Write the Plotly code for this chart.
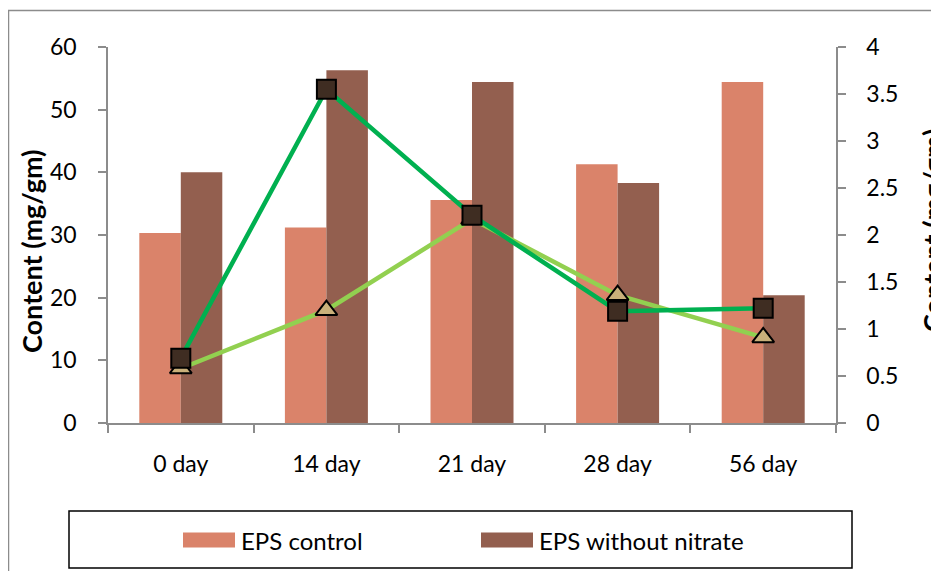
import plotly.graph_objects as go

categories = ["0 day", "14 day", "21 day", "28 day", "56 day"]
eps_control = [30.3, 31.2, 35.6, 41.3, 54.4]
eps_without_nitrate = [40.0, 56.3, 54.4, 38.3, 20.4]
line_triangle = [0.58, 1.20, 2.17, 1.36, 0.91]
line_square = [0.69, 3.55, 2.21, 1.19, 1.22]

left_ticks = [0, 10, 20, 30, 40, 50, 60]
right_ticks = [0, 0.5, 1, 1.5, 2, 2.5, 3, 3.5, 4]
right_tick_text = ["0", "0.5", "1", "1.5", "2", "2.5", "3", "3.5", "4"]

bar_colors = ["#DA836A", "#935F4F"]
bar_names = ["EPS control", "EPS without nitrate"]

FONT = "Lato"
OFF = 8  # page body margin
W, H = 939 - OFF, 571 - OFF
# plot area in page pixels
L, R, T, B = 108, 836, 47, 423

fig = go.Figure()
fig.add_trace(go.Bar(x=categories, y=eps_control, name=bar_names[0],
                     marker=dict(color=bar_colors[0], line=dict(width=0))))
fig.add_trace(go.Bar(x=categories, y=eps_without_nitrate, name=bar_names[1],
                     marker=dict(color=bar_colors[1], line=dict(width=0))))
fig.add_trace(go.Scatter(x=categories, y=line_triangle, yaxis="y2", mode="lines+markers",
                         name="Series 3",
                         line=dict(color="#92D050", width=4.5),
                         marker=dict(symbol="triangle-up", size=19, color="#C9B07A",
                                     line=dict(color="black", width=2))))
fig.add_trace(go.Scatter(x=categories, y=line_square, yaxis="y2", mode="lines+markers",
                         name="Series 4",
                         line=dict(color="#00B050", width=4.5),
                         marker=dict(symbol="square", size=19, color="#3F2D22",
                                     line=dict(color="black", width=2))))


def px_x(x):
    return (x - L) / (R - L)


def px_y(y):
    return (B - y) / (B - T)


axis_common = dict(showline=True, linecolor="#8C8C8C", linewidth=1.5, ticks="outside",
                   ticklen=8, tickcolor="#8C8C8C", tickwidth=1.5, showgrid=False,
                   zeroline=False, tickfont=dict(family=FONT, size=23))

fig.update_layout(
    width=W, height=H,
    margin=dict(l=L - OFF, r=W - (R - OFF), t=T - OFF, b=H - (B - OFF), pad=0),
    paper_bgcolor="white", plot_bgcolor="white",
    barmode="group", bargap=0.43, bargroupgap=0,
    font=dict(family=FONT, size=23, color="black"),
    xaxis=dict(tickson="boundaries", ticklabelstandoff=20, **axis_common),
    yaxis=dict(range=[0, 60], tickvals=left_ticks, ticklabelstandoff=17, **axis_common),
    yaxis2=dict(range=[0, 4], tickvals=right_ticks, ticktext=right_tick_text,
                overlaying="y", side="right", ticklabelstandoff=16, **axis_common),
    showlegend=False,
)

# outer chart border
fig.add_shape(type="rect", xref="paper", yref="paper",
              x0=px_x(8.5), x1=px_x(980), y0=px_y(620), y1=px_y(10.5),
              line=dict(color="#8C8C8C", width=1.5), fillcolor="rgba(0,0,0,0)", layer="below")
# legend box
fig.add_shape(type="rect", xref="paper", yref="paper",
              x0=px_x(69), x1=px_x(852), y0=px_y(568), y1=px_y(511),
              line=dict(color="black", width=1.5), fillcolor="rgba(0,0,0,0)")
# legend entries
legend_swatch_x = [183, 481]
for name, col, sx in zip(bar_names, bar_colors, legend_swatch_x):
    fig.add_shape(type="rect", xref="paper", yref="paper",
                  x0=px_x(sx), x1=px_x(sx + 52), y0=px_y(547.5), y1=px_y(532.5),
                  line=dict(width=0), fillcolor=col)
    fig.add_annotation(text=name, xref="paper", yref="paper", x=px_x(sx + 56), y=px_y(540),
                       xanchor="left", yanchor="middle", showarrow=False,
                       font=dict(family=FONT, size=24))

fig.add_annotation(text="<b>Content (mg/gm)</b>", xref="paper", yref="paper",
                   x=px_x(31), y=px_y(251), textangle=-90, showarrow=False,
                   xanchor="center", yanchor="middle", font=dict(family=FONT, size=27))
fig.add_annotation(text="<b>Content (mg/gm)</b>", xref="paper", yref="paper",
                   x=px_x(932), y=px_y(230), textangle=-90, showarrow=False,
                   xanchor="center", yanchor="middle", font=dict(family=FONT, size=27))

fig.write_html("out.html")
